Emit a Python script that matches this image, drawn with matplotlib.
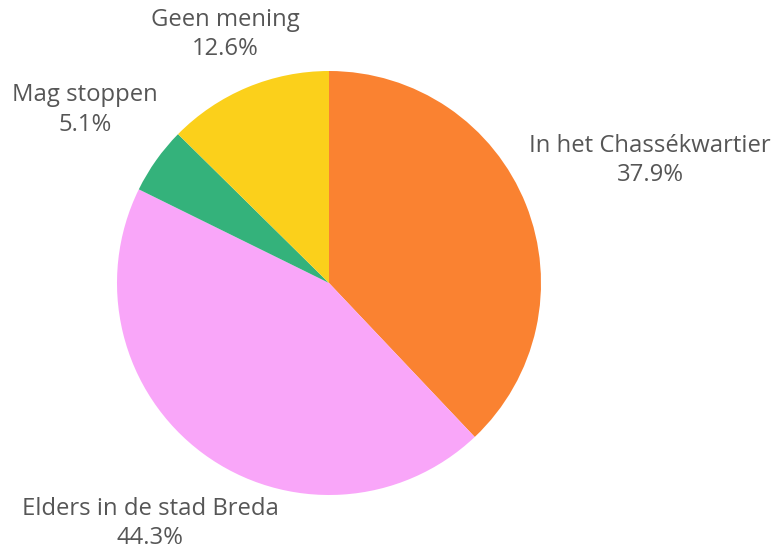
import numpy as np
import matplotlib
matplotlib.use("Agg")
import matplotlib.pyplot as plt

# Data
labels = ["In het Chassékwartier", "Elders in de stad Breda", "Mag stoppen", "Geen mening"]
values = [37.9, 44.3, 5.1, 12.6]
colours = ["#FA8231", "#F9A6F9", "#34B27B", "#FBD01B"]
# how far out (in radii) each label sits along its wedge's middle, plus a small vertical nudge
label_dist = [1.63, 1.42, 1.41, 1.27]
label_nudge = [-0.025, 0.008, 0.0, 0.0]

plt.rcParams["font.family"] = ["Open Sans", "DejaVu Sans"]

fig = plt.figure(figsize=(7.72, 5.51), dpi=100, facecolor="white")
W, H = 772, 551
cx, cy, r = 329, 283, 212
ax = fig.add_axes([(cx - r) / W, (H - cy - r) / H, 2 * r / W, 2 * r / H])

wedges, _ = ax.pie(values, colors=colours, startangle=90, counterclock=False,
                   radius=1, wedgeprops=dict(linewidth=0))
ax.set_xlim(-1, 1)
ax.set_ylim(-1, 1)
ax.set_axis_off()

for w, lab, v, d, ny in zip(wedges, labels, values, label_dist, label_nudge):
    mid = np.deg2rad((w.theta1 + w.theta2) / 2)
    ax.text(d * np.cos(mid), d * np.sin(mid) + ny, f"{lab}\n{v:.1f}%",
            ha="center", va="center", fontsize=17.2, color="#565656",
            linespacing=1.3, clip_on=False)

fig.savefig("out.png", dpi=100, facecolor="white")
